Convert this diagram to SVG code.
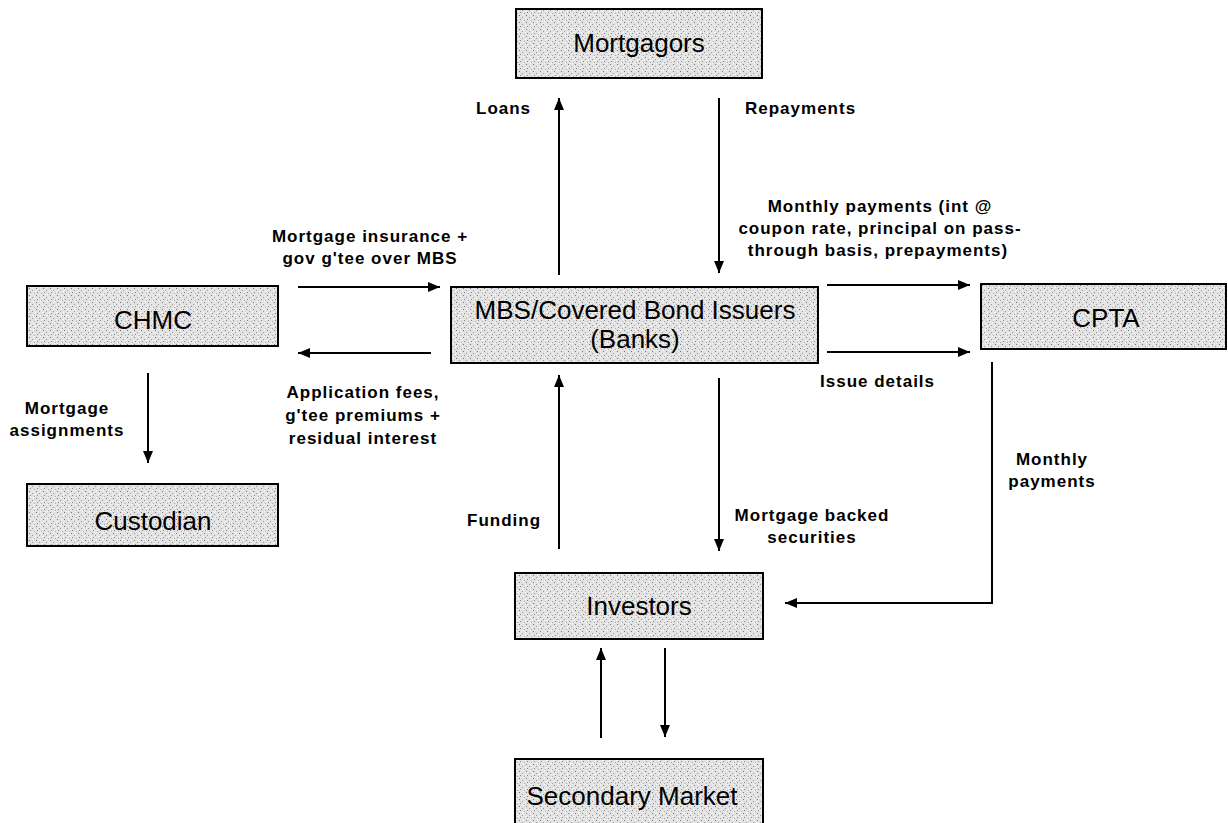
<svg xmlns="http://www.w3.org/2000/svg" width="1228" height="823" viewBox="0 0 1228 823">
<style>
.box{fill:url(#stip);stroke:#000;stroke-width:2}
.node{font-family:"Liberation Sans",Arial,sans-serif;font-size:26px;fill:#000;text-anchor:middle}
.lbl{font-family:"Liberation Sans",Arial,sans-serif;font-size:17px;font-weight:bold;letter-spacing:1px;fill:#000}
.mid{text-anchor:middle}
.c{fill:none;stroke:#000;stroke-width:2}
</style>
<defs>
<pattern id="stip" width="7" height="7" patternUnits="userSpaceOnUse">
<rect width="7" height="7" fill="#e3e3e3"/>
<rect x="1" y="1" width="1" height="1" fill="#777"/>
<rect x="4" y="3" width="1" height="1" fill="#999"/>
<rect x="2" y="5" width="1" height="1" fill="#888"/>
<rect x="6" y="6" width="1" height="1" fill="#aaa"/>
<rect x="5" y="0" width="1" height="1" fill="#fff"/>
<rect x="0" y="4" width="1" height="1" fill="#fff"/>
</pattern>
<marker id="ah" markerUnits="userSpaceOnUse" markerWidth="13" markerHeight="11" refX="12" refY="5" orient="auto">
<path d="M0,0 L12,5 L0,10 z" fill="#000"/>
</marker>
</defs>

<g id="mortgagors">
<rect class="box" x="516" y="9" width="246" height="69"/>
<text class="node" x="639" y="52">Mortgagors</text>
</g>
<g id="chmc">
<rect class="box" x="27" y="286" width="251" height="60"/>
<text class="node" x="153" y="329">CHMC</text>
</g>
<g id="mbs">
<rect class="box" x="451" y="287" width="367" height="76"/>
<text class="node" x="635" y="319">MBS/Covered Bond Issuers</text>
<text class="node" x="635" y="348">(Banks)</text>
</g>
<g id="cpta">
<rect class="box" x="981" y="284" width="245" height="65"/>
<text class="node" x="1106" y="327">CPTA</text>
</g>
<g id="custodian">
<rect class="box" x="27" y="484" width="251" height="62"/>
<text class="node" x="153" y="530">Custodian</text>
</g>
<g id="investors">
<rect class="box" x="515" y="573" width="248" height="66"/>
<text class="node" x="639" y="615">Investors</text>
</g>
<g id="secondary">
<rect class="box" x="515" y="759" width="248" height="68"/>
<text class="node" x="632" y="805">Secondary Market</text>
</g>

<g id="connectors">
<line class="c" x1="559" y1="275" x2="559" y2="98" marker-end="url(#ah)"/>
<line class="c" x1="719" y1="98" x2="719" y2="273" marker-end="url(#ah)"/>
<line class="c" x1="298" y1="287" x2="440" y2="287" marker-end="url(#ah)"/>
<line class="c" x1="431" y1="353" x2="298" y2="353" marker-end="url(#ah)"/>
<line class="c" x1="827" y1="285" x2="970" y2="285" marker-end="url(#ah)"/>
<line class="c" x1="827" y1="352" x2="970" y2="352" marker-end="url(#ah)"/>
<line class="c" x1="148" y1="373" x2="148" y2="463" marker-end="url(#ah)"/>
<line class="c" x1="559" y1="549" x2="559" y2="375" marker-end="url(#ah)"/>
<line class="c" x1="719" y1="378" x2="719" y2="551" marker-end="url(#ah)"/>
<polyline class="c" points="992,362 992,603 785,603" marker-end="url(#ah)"/>
<line class="c" x1="601" y1="738" x2="601" y2="648" marker-end="url(#ah)"/>
<line class="c" x1="665" y1="648" x2="665" y2="737" marker-end="url(#ah)"/>

<text class="lbl" x="476" y="114">Loans</text>
<text class="lbl" x="745" y="114">Repayments</text>
<text class="lbl mid" x="370" y="242">Mortgage insurance +</text>
<text class="lbl mid" x="370" y="264">gov g'tee over MBS</text>
<text class="lbl mid" x="880" y="212">Monthly payments (int @</text>
<text class="lbl mid" x="880" y="234">coupon rate, principal on pass-</text>
<text class="lbl mid" x="878" y="256">through basis, prepayments)</text>
<text class="lbl" x="820" y="387">Issue details</text>
<text class="lbl mid" x="363" y="398">Application fees,</text>
<text class="lbl mid" x="363" y="421">g'tee premiums +</text>
<text class="lbl mid" x="363" y="444">residual interest</text>
<text class="lbl mid" x="67" y="414">Mortgage</text>
<text class="lbl mid" x="67" y="436">assignments</text>
<text class="lbl" x="467" y="526">Funding</text>
<text class="lbl mid" x="812" y="521">Mortgage backed</text>
<text class="lbl mid" x="812" y="543">securities</text>
<text class="lbl mid" x="1052" y="465">Monthly</text>
<text class="lbl mid" x="1052" y="487">payments</text>
</g>
</svg>
